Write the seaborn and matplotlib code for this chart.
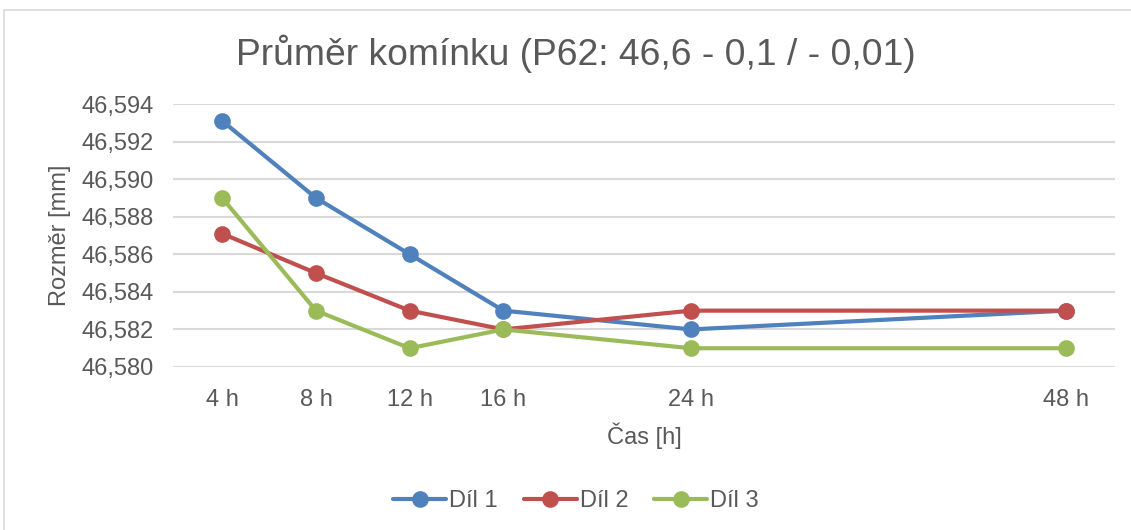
import pandas as pd
import seaborn as sns
import matplotlib.pyplot as plt
from matplotlib.patches import Rectangle

# data
times = ["4 h", "8 h", "12 h", "16 h", "24 h", "48 h"]
x_pos = [4, 8, 12, 16, 24, 40]  # horizontal placement as in the original chart
dil_1 = [46.5931, 46.589, 46.586, 46.583, 46.582, 46.583]
dil_2 = [46.5871, 46.585, 46.583, 46.582, 46.583, 46.583]
dil_3 = [46.589, 46.583, 46.581, 46.582, 46.581, 46.581]
series = ["Díl 1", "Díl 2", "Díl 3"]
colors = ["#4F81BD", "#C0504D", "#9BBB59"]

rows = []
for name, vals in zip(series, [dil_1, dil_2, dil_3]):
    for t, x, v in zip(times, x_pos, vals):
        rows.append({"cas": t, "x": x, "rozmer": v, "dil": name})
df = pd.DataFrame(rows)

sns.set_theme(style="white")
plt.rcParams["font.family"] = ["Liberation Sans", "DejaVu Sans"]
text_col = "#595959"

fig = plt.figure(figsize=(11.31, 5.30), dpi=100)
ax = fig.add_axes([173 / 1131, 1 - 367 / 530, (1115 - 173) / 1131, (367 - 104) / 530])

sns.lineplot(data=df, x="x", y="rozmer", hue="dil", palette=colors,
             marker="o", markersize=12, markeredgewidth=0, linewidth=3,
             sort=False, ax=ax)

ax.set_ylim(46.580, 46.594)
ax.set_yticks([46.580 + 0.002 * i for i in range(8)])
ax.set_yticklabels([f"{46.580 + 0.002 * i:.3f}".replace(".", ",") for i in range(8)])
ax.set_xlim(1.9, 42.1)
ax.set_xticks(x_pos)
ax.set_xticklabels(times)
ax.tick_params(axis="both", length=0, labelsize=17, labelcolor=text_col)
ax.tick_params(axis="x", pad=16)
ax.tick_params(axis="y", pad=14)
ax.yaxis.grid(True, color="#D9D9D9", linewidth=1.5)
ax.xaxis.grid(False)
for s in ax.spines.values():
    s.set_visible(False)

ax.set_xlabel("Čas [h]", fontsize=17, color=text_col, labelpad=8)
ax.set_ylabel("Rozměr [mm]", fontsize=17, color=text_col, labelpad=7)

cx = 576 / 1131
fig.text(cx, 1 - 54 / 530, "Průměr komínku (P62: 46,6 - 0,1 / - 0,01)",
         ha="center", va="center", fontsize=26.8, color=text_col)

handles, labels = ax.get_legend_handles_labels()
ax.legend(handles, labels, loc="center", bbox_to_anchor=(cx, 1 - 501 / 530),
          bbox_transform=fig.transFigure, ncol=3, frameon=False, fontsize=17,
          labelcolor=text_col, handlelength=2.25, handletextpad=0.12, columnspacing=1.1)

fig.patches.append(Rectangle((4 / 1131, -0.01), 1.1, 1 - 10 / 530 + 0.01,
                             transform=fig.transFigure, fill=False,
                             edgecolor="#D9D9D9", linewidth=1.2))

fig.savefig("out.png", dpi=100)
